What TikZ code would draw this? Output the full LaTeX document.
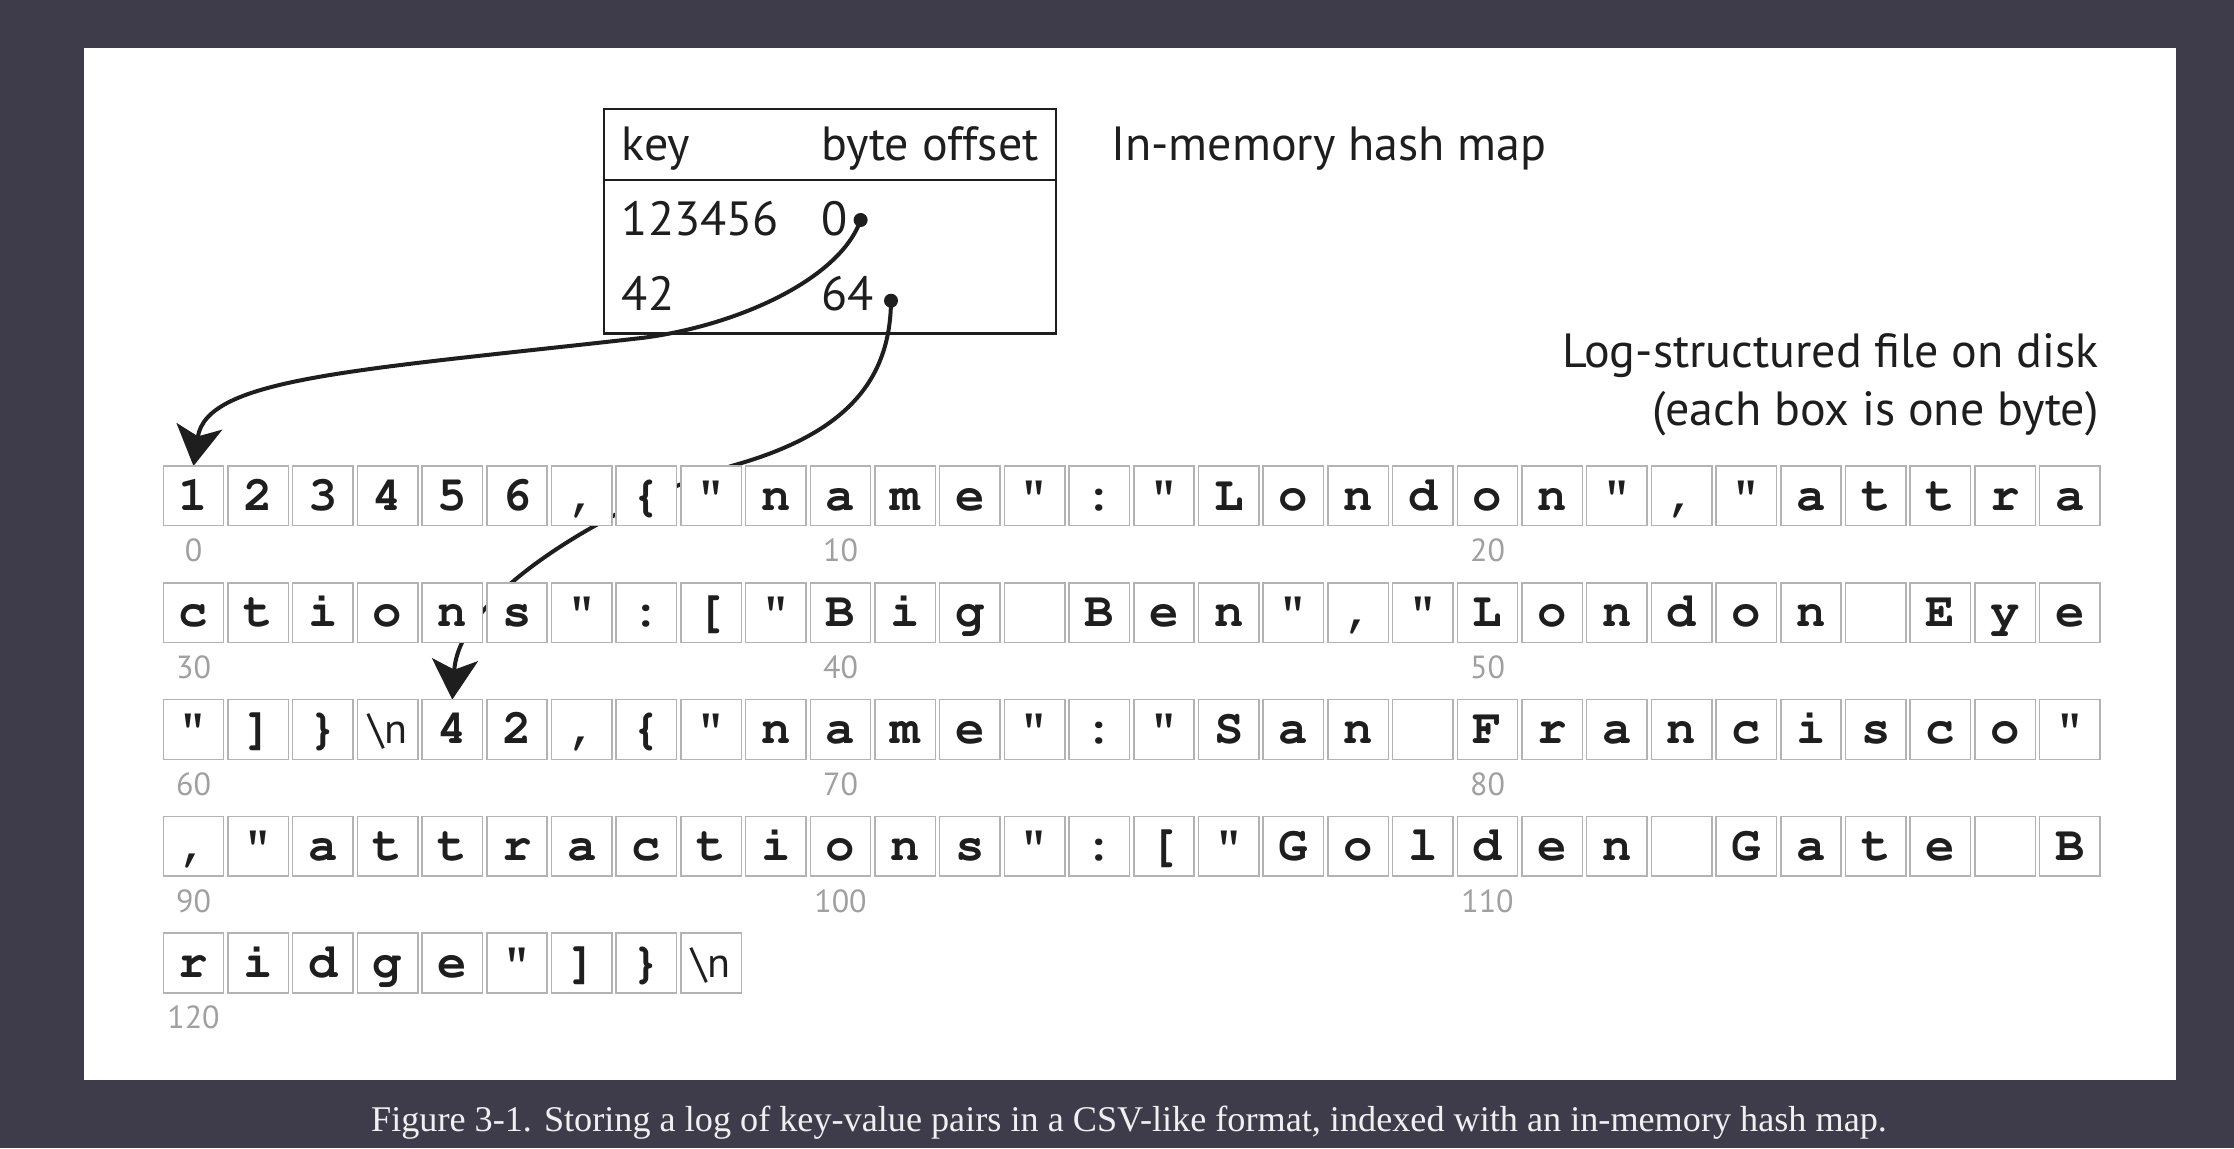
\documentclass[tikz,border=0pt]{standalone}
\usepackage[T1,TU]{fontenc}
\usepackage{fontspec}
\usetikzlibrary{arrows.meta}
\newfontfamily\sansf{PT Sans}
\newfontfamily\capf{Liberation Serif}
\definecolor{bgc}{HTML}{3E3C4A}
\definecolor{boxc}{HTML}{B3B3B3}
\definecolor{idxc}{HTML}{A0A0A0}
\definecolor{ink}{HTML}{1E1E1E}
\newcommand\crfont{\fontencoding{T1}\fontfamily{pcr}\fontseries{b}\fontshape{n}\fontsize{24.5pt}{28pt}\selectfont}
\newcommand\nlsym{{\fontencoding{TU}\sansf\fontseries{m}\fontsize{21pt}{24pt}\selectfont\textbackslash n}}
\tikzset{
  bytebox/.style={draw=boxc, line width=0.75pt, fill=white, minimum width=30.2pt,
    minimum height=29.85pt, inner sep=0pt, text height=14.15pt, text depth=0pt,
    font=\crfont, text=ink},
  idx/.style={font=\sansf\fontsize{16pt}{18pt}\selectfont, text=idxc, anchor=base, inner sep=0pt},
  lbl/.style={font=\sansf\fontsize{24pt}{27pt}\selectfont, text=ink, anchor=base west, inner sep=0pt},
  ptr/.style={draw=ink, line width=2pt, -{Stealth[length=20pt, width=23pt, inset=5pt]}},
  ptdot/.style={circle, fill=ink, minimum size=7pt, inner sep=0pt},
  tablebox/.style={draw=ink, line width=1.2pt, inner sep=0pt},
}
\newcommand\bytecell[2]{%
  \pgfmathtruncatemacro\brow{floor(#1/30)}%
  \pgfmathtruncatemacro\bcol{#1-30*\brow}%
  \node[bytebox] (b#1) at ({193.5+64.7*\bcol},{495.85+116.8*\brow}) {#2};}
\newcommand\idxlabel[1]{%
  \pgfmathtruncatemacro\brow{floor(#1/30)}%
  \pgfmathtruncatemacro\bcol{#1-30*\brow}%
  \node[idx] (l#1) at ({193.5+64.7*\bcol},{561.7+116.8*\brow}) {#1};}
\begin{document}
\begin{tikzpicture}[x=0.5pt,y=-0.5pt]
\useasboundingbox (0,0) rectangle (2234,1148);
\fill[bgc] (0,0) rectangle (2234,1148);
\fill[white] (84,48) rectangle (2176,1080);
% hash map table
\node[tablebox, minimum width=226pt, minimum height=112.15pt] (tbl) at (830,221.15) {};
\coordinate (hl) at (0,180);
\draw[ink, line width=1.2pt] (tbl.west |- hl) -- (tbl.east |- hl);
\node[lbl] (tkey) at (621.5,160) {key};
\node[lbl] (toff) at (821,160) {byte offset};
\node[lbl] (k1) at (621.5,235.7) {123456};
\node[lbl] (v1) at (821,235.7) {0};
\node[lbl] (k2) at (621.5,310.7) {42};
\node[lbl] (v2) at (821,310.7) {64};
\node[lbl] (ttl) at (1111,160) {In-memory hash map};
\node[lbl, anchor=base east] (lg1) at (2099,367) {Log-structured file on disk};
\node[lbl, anchor=base east] (lg2) at (2099,425) {(each box is one byte)};
\node[ptdot] (d0) at (860.6,220) {};
\node[ptdot] (d1) at (891,300.7) {};
% arrow targets (tops of byte cells 0 and 64)
\coordinate (t0) at (193.5,466);
\coordinate (t64) at (452.3,699.6);
\draw[ptr] (d0.center) .. controls (840.6,277.8) and (740.8,324.8) .. (644,337.7)
   .. controls (356.2,370.4) and (206.6,377.5) .. (t0);
\draw[ptr] (d1.center) .. controls (890.4,384.7) and (840.6,434.5) .. (736.6,464.5)
   .. controls (643,491.5) and (460,584) .. (t64);
% row 0
\bytecell{0}{1}\bytecell{1}{2}\bytecell{2}{3}\bytecell{3}{4}\bytecell{4}{5}\bytecell{5}{6}
\bytecell{6}{,}\bytecell{7}{\{}\bytecell{8}{"}\bytecell{9}{n}\bytecell{10}{a}\bytecell{11}{m}
\bytecell{12}{e}\bytecell{13}{"}\bytecell{14}{:}\bytecell{15}{"}\bytecell{16}{L}\bytecell{17}{o}
\bytecell{18}{n}\bytecell{19}{d}\bytecell{20}{o}\bytecell{21}{n}\bytecell{22}{"}\bytecell{23}{,}
\bytecell{24}{"}\bytecell{25}{a}\bytecell{26}{t}\bytecell{27}{t}\bytecell{28}{r}\bytecell{29}{a}
% row 1
\bytecell{30}{c}\bytecell{31}{t}\bytecell{32}{i}\bytecell{33}{o}\bytecell{34}{n}\bytecell{35}{s}
\bytecell{36}{"}\bytecell{37}{:}\bytecell{38}{[}\bytecell{39}{"}\bytecell{40}{B}\bytecell{41}{i}
\bytecell{42}{g}\bytecell{43}{}\bytecell{44}{B}\bytecell{45}{e}\bytecell{46}{n}\bytecell{47}{"}
\bytecell{48}{,}\bytecell{49}{"}\bytecell{50}{L}\bytecell{51}{o}\bytecell{52}{n}\bytecell{53}{d}
\bytecell{54}{o}\bytecell{55}{n}\bytecell{56}{}\bytecell{57}{E}\bytecell{58}{y}\bytecell{59}{e}
% row 2
\bytecell{60}{"}\bytecell{61}{]}\bytecell{62}{\}}\bytecell{63}{\nlsym}\bytecell{64}{4}\bytecell{65}{2}
\bytecell{66}{,}\bytecell{67}{\{}\bytecell{68}{"}\bytecell{69}{n}\bytecell{70}{a}\bytecell{71}{m}
\bytecell{72}{e}\bytecell{73}{"}\bytecell{74}{:}\bytecell{75}{"}\bytecell{76}{S}\bytecell{77}{a}
\bytecell{78}{n}\bytecell{79}{}\bytecell{80}{F}\bytecell{81}{r}\bytecell{82}{a}\bytecell{83}{n}
\bytecell{84}{c}\bytecell{85}{i}\bytecell{86}{s}\bytecell{87}{c}\bytecell{88}{o}\bytecell{89}{"}
% row 3
\bytecell{90}{,}\bytecell{91}{"}\bytecell{92}{a}\bytecell{93}{t}\bytecell{94}{t}\bytecell{95}{r}
\bytecell{96}{a}\bytecell{97}{c}\bytecell{98}{t}\bytecell{99}{i}\bytecell{100}{o}\bytecell{101}{n}
\bytecell{102}{s}\bytecell{103}{"}\bytecell{104}{:}\bytecell{105}{[}\bytecell{106}{"}\bytecell{107}{G}
\bytecell{108}{o}\bytecell{109}{l}\bytecell{110}{d}\bytecell{111}{e}\bytecell{112}{n}\bytecell{113}{}
\bytecell{114}{G}\bytecell{115}{a}\bytecell{116}{t}\bytecell{117}{e}\bytecell{118}{}\bytecell{119}{B}
% row 4
\bytecell{120}{r}\bytecell{121}{i}\bytecell{122}{d}\bytecell{123}{g}\bytecell{124}{e}\bytecell{125}{"}
\bytecell{126}{]}\bytecell{127}{\}}\bytecell{128}{\nlsym}
% index labels
\idxlabel{0}\idxlabel{10}\idxlabel{20}\idxlabel{30}\idxlabel{40}\idxlabel{50}\idxlabel{60}
\idxlabel{70}\idxlabel{80}\idxlabel{90}\idxlabel{100}\idxlabel{110}\idxlabel{120}
% caption
\node[font=\capf\fontsize{18.1pt}{21pt}\selectfont, text=white!94!black, anchor=base, inner sep=0pt]
  (cap) at (1129,1131.7) {Figure 3-1. Storing a log of key-value pairs in a CSV-like format, indexed with an in-memory hash map.};
\end{tikzpicture}
\end{document}
